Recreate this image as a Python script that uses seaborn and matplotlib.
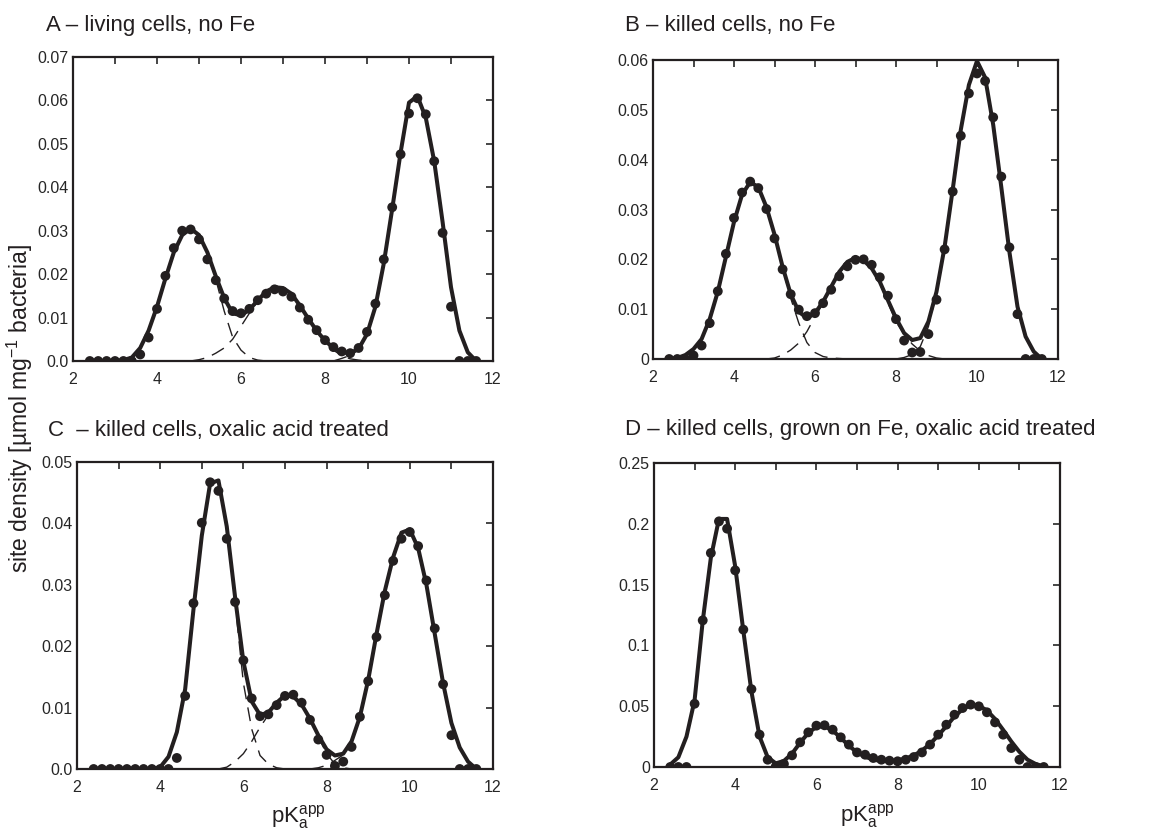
"""Site density distributions (pKa spectra) for four bacterial cell treatments."""
import numpy as np
import pandas as pd
import matplotlib
matplotlib.use("Agg")
import matplotlib.pyplot as plt
from matplotlib.ticker import MultipleLocator
import seaborn as sns

# pKa grid of the titration data (step 0.2)
PKA = [round(2.4 + 0.2 * i, 1) for i in range(47)]

# --- A: living cells, no Fe ---
A_POINTS = [0, 0, 0, 0, 0, 0, 0.0015, 0.0054, 0.012, 0.0196, 0.026, 0.030, 0.0303, 0.028,
            0.0234, 0.0186, 0.0144, 0.0115, 0.011, 0.012, 0.014, 0.0155, 0.0165, 0.016, 0.0148,
            0.0123, 0.0095, 0.0071, 0.0048, 0.0032, 0.0022, 0.0018, 0.003, 0.0067, 0.0132, 0.0234,
            0.0354, 0.0476, 0.057, 0.0605, 0.0568, 0.046, 0.0295, 0.0125, 0, 0, 0]
A_FIT = [0, 0, 0, 0, 0.0002, 0.0008, 0.003, 0.007, 0.0125, 0.019, 0.025, 0.029, 0.0305, 0.029,
         0.025, 0.0195, 0.0145, 0.011, 0.0105, 0.0118, 0.014, 0.016, 0.017, 0.0168, 0.0155,
         0.0128, 0.0098, 0.007, 0.0047, 0.003, 0.002, 0.0018, 0.0028, 0.0062, 0.0125, 0.0225,
         0.035, 0.048, 0.0595, 0.061, 0.056, 0.046, 0.032, 0.017, 0.007, 0.002, 0]
A_COMP1_X = [4.4, 4.6, 4.8, 5.0, 5.2, 5.4, 5.6, 5.8, 6.0, 6.2, 6.4, 6.6, 6.8, 7.0]
A_COMP1 = [0.025, 0.029, 0.0305, 0.029, 0.025, 0.0188, 0.0115, 0.0055, 0.0025, 0.0008, 0.0002,
           0, 0, 0]
A_COMP2_X = [4.8, 5.0, 5.2, 5.4, 5.6, 5.8, 6.0, 6.2, 6.4, 6.6, 6.8, 7.0, 7.2, 7.4, 7.6, 7.8, 8.0,
             8.2, 8.4, 8.6, 8.8, 9.0]
A_COMP2 = [0, 0.0003, 0.0008, 0.0018, 0.003, 0.005, 0.008, 0.011, 0.0138, 0.016, 0.017, 0.0168,
           0.0155, 0.0128, 0.0098, 0.007, 0.0045, 0.0025, 0.0012, 0.0005, 0.0002, 0]
A_COMP3_X = [8.2, 8.4, 8.6, 8.8, 9.0, 9.2, 9.4, 9.6, 9.8, 10.0, 10.2, 10.4, 10.6, 10.8, 11.0,
             11.2, 11.4, 11.6]
A_COMP3 = [0, 0.0006, 0.0013, 0.0026, 0.0062, 0.0125, 0.0225, 0.035, 0.048, 0.0595, 0.061, 0.056,
           0.046, 0.032, 0.017, 0.007, 0.002, 0]

# --- B: killed cells, no Fe ---
B_POINTS = [0, 0, 0, 0.0007, 0.0027, 0.0072, 0.0136, 0.0211, 0.0283, 0.0334, 0.0356, 0.0343,
            0.0301, 0.0242, 0.018, 0.013, 0.0099, 0.0086, 0.0092, 0.0112, 0.0139, 0.0166, 0.0186,
            0.0199, 0.020, 0.0189, 0.0164, 0.0127, 0.008, 0.0037, 0.0013, 0.0014, 0.005, 0.0119,
            0.022, 0.0336, 0.0448, 0.0533, 0.0573, 0.0558, 0.0485, 0.0366, 0.0224, 0.009, 0, 0, 0]
B_FIT = [0, 0.0002, 0.0008, 0.002, 0.004, 0.008, 0.0135, 0.0205, 0.0275, 0.033, 0.0355, 0.0345,
         0.0305, 0.025, 0.0185, 0.013, 0.0095, 0.0082, 0.0092, 0.0115, 0.0145, 0.0175, 0.0195,
         0.0203, 0.0198, 0.0182, 0.0155, 0.0118, 0.0082, 0.0052, 0.0038, 0.0042, 0.0075, 0.0135,
         0.0225, 0.034, 0.046, 0.055, 0.0598, 0.0565, 0.047, 0.0345, 0.0215, 0.0105, 0.0045,
         0.0015, 0]
B_COMP1_X = [4.2, 4.4, 4.6, 4.8, 5.0, 5.2, 5.4, 5.6, 5.8, 6.0, 6.2, 6.4, 6.6, 6.8]
B_COMP1 = [0.033, 0.0355, 0.0345, 0.0305, 0.025, 0.0182, 0.0122, 0.0072, 0.0033, 0.0013, 0.0005,
           0.0002, 0.0001, 0]
B_COMP2_X = [4.8, 5.0, 5.2, 5.4, 5.6, 5.8, 6.0, 6.2, 6.4, 6.6, 6.8, 7.0, 7.2, 7.4, 7.6, 7.8, 8.0,
             8.2, 8.4, 8.6, 8.8, 9.0, 9.2]
B_COMP2 = [0, 0.0002, 0.0008, 0.0018, 0.0032, 0.0055, 0.0085, 0.0112, 0.0142, 0.0172, 0.0194,
           0.0203, 0.0197, 0.018, 0.0152, 0.0113, 0.0075, 0.005, 0.003, 0.0016, 0.0007, 0.0002, 0]
B_COMP3_X = [8.0, 8.2, 8.4, 8.6, 8.8, 9.0, 9.2, 9.4, 9.6, 9.8, 10.0, 10.2, 10.4, 10.6, 10.8, 11.0,
             11.2, 11.4, 11.6]
B_COMP3 = [0, 0.0003, 0.0009, 0.0025, 0.0065, 0.0132, 0.0225, 0.034, 0.046, 0.055, 0.0598, 0.0565,
           0.047, 0.0345, 0.0215, 0.0105, 0.0045, 0.0015, 0]

# --- C: killed cells, oxalic acid treated ---
C_POINTS = [0, 0, 0, 0, 0, 0, 0, 0, 0, 0, 0.0018, 0.0119, 0.027, 0.0401, 0.0467, 0.0453, 0.0375,
            0.0272, 0.0177, 0.0115, 0.0086, 0.0089, 0.0104, 0.0119, 0.0121, 0.0108, 0.008, 0.0048,
            0.0023, 0.0005, 0.0012, 0.0036, 0.0085, 0.0143, 0.0215, 0.0283, 0.0339, 0.0375, 0.0386,
            0.0363, 0.0307, 0.0229, 0.0138, 0.0055, 0, 0, 0]
C_FIT = [0, 0, 0, 0, 0, 0, 0, 0, 0.0003, 0.002, 0.006, 0.013, 0.026, 0.038, 0.0465, 0.047, 0.0395,
         0.028, 0.0175, 0.011, 0.0088, 0.0092, 0.0108, 0.012, 0.0118, 0.0105, 0.0082, 0.0055,
         0.0032, 0.0022, 0.0025, 0.0045, 0.0085, 0.0145, 0.022, 0.029, 0.0345, 0.0385, 0.039,
         0.036, 0.030, 0.022, 0.014, 0.0075, 0.0035, 0.0012, 0]
C_COMP1_X = [4.4, 4.6, 4.8, 5.0, 5.2, 5.4, 5.6, 5.8, 6.0, 6.2, 6.4, 6.6, 6.8, 7.0]
C_COMP1 = [0.006, 0.013, 0.026, 0.038, 0.0465, 0.047, 0.0392, 0.027, 0.014, 0.0065, 0.0022,
           0.0008, 0.0002, 0]
C_COMP2_X = [5.4, 5.6, 5.8, 6.0, 6.2, 6.4, 6.6, 6.8, 7.0, 7.2, 7.4, 7.6, 7.8, 8.0, 8.2, 8.4, 8.6]
C_COMP2 = [0, 0.0003, 0.0012, 0.0025, 0.0045, 0.0068, 0.0088, 0.0105, 0.0118, 0.0117, 0.0104,
           0.0081, 0.0052, 0.0025, 0.0008, 0.0002, 0]
C_COMP3_X = [7.6, 7.8, 8.0, 8.2, 8.4, 8.6, 8.8, 9.0, 9.2, 9.4, 9.6, 9.8, 10.0, 10.2, 10.4, 10.6,
             10.8, 11.0, 11.2, 11.4, 11.6]
C_COMP3 = [0, 0.0002, 0.0006, 0.0014, 0.0023, 0.0045, 0.0085, 0.0145, 0.022, 0.029, 0.0345,
           0.0385, 0.039, 0.036, 0.030, 0.022, 0.014, 0.0075, 0.0035, 0.0012, 0]

# --- D: killed cells, grown on Fe, oxalic acid treated ---
D_POINTS = [0, 0, 0, 0.052, 0.1206, 0.176, 0.202, 0.196, 0.1617, 0.113, 0.064, 0.0266, 0.006,
            0.0005, 0.0025, 0.0096, 0.0203, 0.0285, 0.034, 0.0343, 0.0307, 0.0244, 0.0184, 0.012,
            0.0101, 0.0074, 0.006, 0.0052, 0.0047, 0.006, 0.0082, 0.012, 0.0184, 0.0266, 0.0348,
            0.043, 0.0485, 0.0513, 0.0499, 0.045, 0.0367, 0.0266, 0.0156, 0.006, 0, 0, 0]
D_FIT = [0.002, 0.008, 0.025, 0.055, 0.12, 0.172, 0.204, 0.204, 0.165, 0.112, 0.062, 0.025, 0.008,
         0.003, 0.005, 0.011, 0.020, 0.028, 0.033, 0.0335, 0.030, 0.024, 0.0175, 0.012, 0.0085,
         0.006, 0.005, 0.005, 0.0055, 0.007, 0.0095, 0.0135, 0.019, 0.026, 0.0335, 0.0415, 0.0475,
         0.051, 0.0505, 0.0465, 0.0395, 0.0305, 0.021, 0.0125, 0.006, 0.0025, 0.0005]

TITLES = ["A \u2013 living cells, no Fe", "B \u2013 killed cells, no Fe",
          "C  \u2013 killed cells, oxalic acid treated",
          "D \u2013 killed cells, grown on Fe, oxalic acid treated"]
Y_TICKS = [
    ([0, 0.01, 0.02, 0.03, 0.04, 0.05, 0.06, 0.07],
     ["0.0", "0.01", "0.02", "0.03", "0.04", "0.05", "0.06", "0.07"]),
    ([0, 0.01, 0.02, 0.03, 0.04, 0.05, 0.06],
     ["0", "0.01", "0.02", "0.03", "0.04", "0.05", "0.06"]),
    ([0, 0.01, 0.02, 0.03, 0.04, 0.05],
     ["0.0", "0.01", "0.02", "0.03", "0.04", "0.05"]),
    ([0, 0.05, 0.1, 0.15, 0.2, 0.25],
     ["0", "0.05", "0.1", "0.15", "0.2", "0.25"]),
]

INK = "#231f20"
W, H = 1160, 832


def _panel(ax, points, fit, comps, yticks):
    for cx, cy in comps:
        sns.lineplot(x=cx, y=cy, ax=ax, color=INK, lw=1.0, linestyle=(0, (10, 6)))
    sns.lineplot(x=PKA, y=fit, ax=ax, color=INK, lw=2.9)
    sns.scatterplot(x=PKA, y=points, ax=ax, color=INK, s=50, edgecolor="none", zorder=3)
    ticks, labels = yticks
    ax.set_xlim(2, 12)
    ax.set_ylim(ticks[0], ticks[-1])
    ax.set_xticks([2, 4, 6, 8, 10, 12])
    ax.xaxis.set_minor_locator(MultipleLocator(1))
    ax.set_yticks(ticks)
    ax.set_yticklabels(labels)
    ax.tick_params(axis="x", which="both", direction="in", top=True, bottom=False,
                   length=5, width=1.2, labelsize=11.5, pad=8)
    ax.tick_params(axis="y", which="both", direction="in", right=True, left=False,
                   length=5, width=1.2, labelsize=11.5, pad=3)
    ax.set_xlabel("")
    ax.set_ylabel("")
    for spine in ax.spines.values():
        spine.set_linewidth(1.6)
        spine.set_color(INK)


def _box(left, top, right, bottom):
    return [left / W, 1 - bottom / H, (right - left) / W, (bottom - top) / H]


sns.set_theme(style="ticks")
plt.rcParams["font.family"] = ["Liberation Sans", "DejaVu Sans"]

fig = plt.figure(figsize=(11.6, 8.32), dpi=100)
boxes = [_box(73, 57, 493, 361), _box(653, 60, 1058, 359),
         _box(77, 462, 493, 769), _box(654, 463, 1060, 767)]
data = [
    (A_POINTS, A_FIT, [(A_COMP1_X, A_COMP1), (A_COMP2_X, A_COMP2), (A_COMP3_X, A_COMP3)]),
    (B_POINTS, B_FIT, [(B_COMP1_X, B_COMP1), (B_COMP2_X, B_COMP2), (B_COMP3_X, B_COMP3)]),
    (C_POINTS, C_FIT, [(C_COMP1_X, C_COMP1), (C_COMP2_X, C_COMP2), (C_COMP3_X, C_COMP3)]),
    (D_POINTS, D_FIT, []),
]
title_pos = [(46, 25), (625, 25), (48, 430), (625, 429)]

for box, (pts, fit, comps), yt, title, (tx, ty) in zip(boxes, data, Y_TICKS, TITLES, title_pos):
    ax = fig.add_axes(box)
    _panel(ax, pts, fit, comps, yt)
    fig.text(tx / W, 1 - ty / H, title, fontsize=16, color=INK, ha="left", va="center")

fig.text(20 / W, 1 - 409 / H, "site density [\u00b5mol mg$^{\mathregular{-1}}$ bacteria]",
         rotation=90, fontsize=16.5, color=INK, ha="center", va="center")
for cx, cy in [(298, 818), (867, 817)]:
    fig.text(cx / W, 1 - cy / H, r"pK$_\mathregular{a}^\mathregular{app}$", fontsize=16,
             color=INK, ha="center", va="center")

fig.savefig("out.png", dpi=100)
